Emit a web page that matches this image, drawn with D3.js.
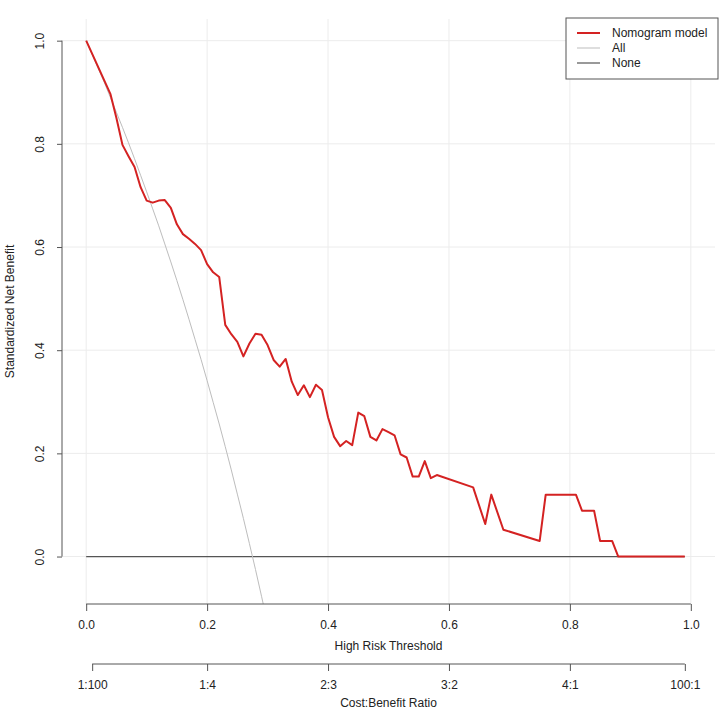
<!DOCTYPE html>
<html>
<head>
<meta charset="utf-8">
<script src="https://cdn.jsdelivr.net/npm/d3@7/dist/d3.min.js"></script>
<style>
    body { margin: 0; background: #fff; }
    svg { display: block; font-family: "Liberation Sans", Arial, sans-serif; }
    .axis text { fill: #222; font-size: 12px; }
    .axis line, .axis path { stroke: #555; }
</style>
</head>
<body>
<div id="chart"></div>
<script>
// Nomogram model (threshold, standardized net benefit)
const modelThreshold = [0.00, 0.04, 0.05, 0.06, 0.07, 0.08, 0.09, 0.10, 0.11, 0.12, 0.13, 0.14, 0.15,
    0.16, 0.17, 0.18, 0.19, 0.20, 0.21, 0.22, 0.23, 0.24, 0.25, 0.26, 0.27, 0.28, 0.29, 0.30, 0.31,
    0.32, 0.33, 0.34, 0.35, 0.36, 0.37, 0.38, 0.39, 0.40, 0.41, 0.42, 0.43, 0.44, 0.45, 0.46, 0.47,
    0.48, 0.49, 0.50, 0.51, 0.52, 0.53, 0.54, 0.55, 0.56, 0.57, 0.58, 0.64, 0.66, 0.67, 0.69, 0.75,
    0.76, 0.81, 0.82, 0.84, 0.85, 0.87, 0.88, 0.99];
const modelBenefit = [1.000, 0.897, 0.850, 0.798, 0.776, 0.755, 0.716, 0.690, 0.686, 0.690, 0.691, 0.676, 0.644,
    0.625, 0.616, 0.606, 0.594, 0.567, 0.551, 0.542, 0.449, 0.431, 0.416, 0.388, 0.413, 0.432, 0.430, 0.410, 0.381,
    0.368, 0.383, 0.339, 0.313, 0.332, 0.309, 0.333, 0.323, 0.270, 0.232, 0.214, 0.224, 0.216, 0.279, 0.272, 0.232,
    0.225, 0.247, 0.241, 0.235, 0.198, 0.192, 0.155, 0.155, 0.185, 0.152, 0.158, 0.134, 0.063, 0.120, 0.052, 0.030,
    0.120, 0.120, 0.089, 0.089, 0.030, 0.030, 0.000, 0.000];

// Treat all
const allThreshold = [0.00, 0.01, 0.02, 0.03, 0.04, 0.05, 0.06, 0.07, 0.08, 0.09, 0.10, 0.11, 0.12, 0.13, 0.14,
    0.15, 0.16, 0.17, 0.18, 0.19, 0.20, 0.21, 0.22, 0.23, 0.24, 0.25, 0.26, 0.27, 0.28, 0.29, 0.30];
const allBenefit = [1.000, 0.973, 0.946, 0.919, 0.890, 0.861, 0.832, 0.802, 0.771, 0.739, 0.707, 0.674, 0.641, 0.606, 0.571,
    0.535, 0.498, 0.460, 0.421, 0.382, 0.341, 0.299, 0.257, 0.213, 0.168, 0.121, 0.074, 0.025, -0.025, -0.077, -0.130];

// Treat none
const noneThreshold = [0.00, 0.99];
const noneBenefit = [0, 0];

const xTicks = [0, 0.2, 0.4, 0.6, 0.8, 1.0];
const yTicks = [0, 0.2, 0.4, 0.6, 0.8, 1.0];
const costBenefitLabels = ['1:100', '1:4', '2:3', '3:2', '4:1', '100:1'];

const legendNames = ['Nomogram model', 'All', 'None'];
const legendColors = ['#d42222', '#bdbdbd', '#555'];
const legendWidths = [2, 1, 1.2];

const width = 720, height = 719;
const plot = { left: 62, right: 715, top: 19, bottom: 604 };

const svg = d3.select('#chart').append('svg')
    .attr('width', width)
    .attr('height', height);

// R style: 4% extension around xlim c(0,1) and ylim c(-0.05,1)
const x = d3.scaleLinear().domain([-0.04, 1.04]).range([plot.left, plot.right]);
const y = d3.scaleLinear().domain([-0.05 - 0.042, 1.042]).range([plot.bottom, plot.top]);

// grid
svg.append('g').selectAll('line')
    .data(xTicks).enter().append('line')
    .attr('x1', d => x(d)).attr('x2', d => x(d))
    .attr('y1', plot.top).attr('y2', plot.bottom)
    .attr('stroke', '#ececec');
svg.append('g').selectAll('line')
    .data(yTicks).enter().append('line')
    .attr('x1', plot.left).attr('x2', plot.right)
    .attr('y1', d => y(d)).attr('y2', d => y(d))
    .attr('stroke', '#ececec');

svg.append('clipPath').attr('id', 'clip')
    .append('rect')
    .attr('x', plot.left).attr('y', plot.top)
    .attr('width', plot.right - plot.left)
    .attr('height', plot.bottom - plot.top);

const line = d3.line().x(d => x(d[0])).y(d => y(d[1]));
const lines = svg.append('g').attr('clip-path', 'url(#clip)');

lines.append('path')
    .datum(d3.zip(noneThreshold, noneBenefit))
    .attr('d', line).attr('fill', 'none')
    .attr('stroke', legendColors[2]).attr('stroke-width', legendWidths[2]);
lines.append('path')
    .datum(d3.zip(allThreshold, allBenefit))
    .attr('d', line).attr('fill', 'none')
    .attr('stroke', legendColors[1]).attr('stroke-width', legendWidths[1]);
lines.append('path')
    .datum(d3.zip(modelThreshold, modelBenefit))
    .attr('d', line).attr('fill', 'none')
    .attr('stroke', legendColors[0]).attr('stroke-width', legendWidths[0])
    .attr('stroke-linejoin', 'round');

// x axis
const xAxis = svg.append('g').attr('class', 'axis')
    .attr('transform', `translate(0,${plot.bottom})`)
    .call(d3.axisBottom(x).tickValues(xTicks).tickSize(7).tickPadding(9).tickFormat(d3.format('.1f')));
xAxis.select('.domain').remove();
xAxis.append('line')
    .attr('x1', x(xTicks[0])).attr('x2', x(xTicks[xTicks.length - 1]));

// cost:benefit axis
const cbAt = costBenefitLabels.map(s => {
    const [a, b] = s.split(':').map(Number);
    return a / (a + b);
});
const cbAxis = svg.append('g').attr('class', 'axis')
    .attr('transform', 'translate(0,664)')
    .call(d3.axisBottom(x).tickValues(cbAt).tickSize(7).tickPadding(9)
        .tickFormat((d, i) => costBenefitLabels[i]));
cbAxis.select('.domain').remove();
cbAxis.append('line')
    .attr('x1', x(cbAt[0])).attr('x2', x(cbAt[cbAt.length - 1]));

// y axis
const yAxis = svg.append('g').attr('class', 'axis')
    .attr('transform', `translate(${plot.left},0)`)
    .call(d3.axisLeft(y).tickValues(yTicks).tickSize(5).tickFormat(d3.format('.1f')));
yAxis.select('.domain').remove();
yAxis.append('line')
    .attr('y1', y(yTicks[0])).attr('y2', y(yTicks[yTicks.length - 1]));
yAxis.selectAll('.tick text')
    .attr('x', 0).attr('dy', 0)
    .attr('text-anchor', 'middle')
    .attr('transform', 'translate(-22,0) rotate(-90)')
    .attr('dominant-baseline', 'central');

// titles
svg.append('text')
    .attr('x', x(0.5)).attr('y', 650)
    .attr('text-anchor', 'middle').attr('font-size', 12).attr('fill', '#222')
    .text('High Risk Threshold');
svg.append('text')
    .attr('x', x(0.5)).attr('y', 707)
    .attr('text-anchor', 'middle').attr('font-size', 12).attr('fill', '#222')
    .text('Cost:Benefit Ratio');
svg.append('text')
    .attr('transform', `translate(14,${(plot.top + plot.bottom) / 2}) rotate(-90)`)
    .attr('text-anchor', 'middle').attr('font-size', 12).attr('fill', '#222')
    .text('Standardized Net Benefit');

// legend
const legend = svg.append('g').attr('transform', 'translate(566,18)');
legend.append('rect')
    .attr('width', 152).attr('height', 61)
    .attr('fill', '#fff').attr('stroke', '#555');
const items = legend.selectAll('.item')
    .data(legendNames).enter().append('g')
    .attr('class', 'item')
    .attr('transform', (d, i) => `translate(0,${15 + i * 15})`);
items.append('line')
    .attr('x1', 11).attr('x2', 34)
    .attr('stroke', (d, i) => legendColors[i])
    .attr('stroke-width', (d, i) => legendWidths[i]);
items.append('text')
    .attr('x', 46).attr('dy', '0.35em')
    .attr('font-size', 12).attr('fill', '#222')
    .text(d => d);
</script>
</body>
</html>
